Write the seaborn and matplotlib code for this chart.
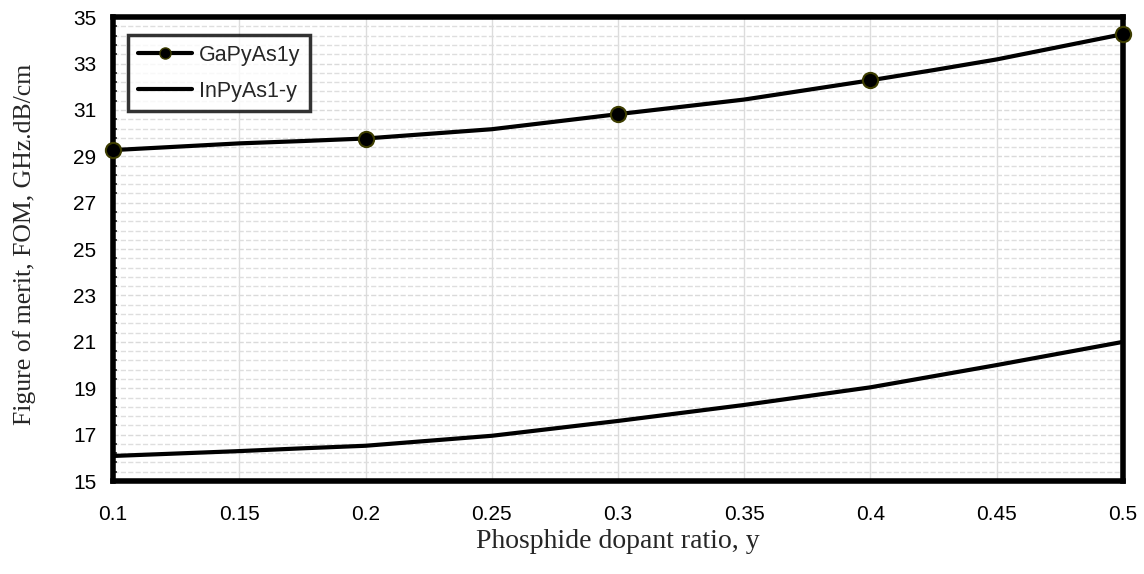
import numpy as np
import pandas as pd
import seaborn as sns
import matplotlib.pyplot as plt
from matplotlib.lines import Line2D
from matplotlib.ticker import MultipleLocator, FixedLocator, FuncFormatter

# data
x_vals = [0.1, 0.15, 0.175, 0.2, 0.25, 0.3, 0.35, 0.4, 0.425, 0.45, 0.5]
gap_fom = [29.27, 29.56, 29.66, 29.77, 30.17, 30.82, 31.45, 32.28, 32.72, 33.18, 34.27]
inp_fom = [16.08, 16.29, 16.41, 16.52, 16.95, 17.59, 18.28, 19.04, 19.52, 20.0, 21.0]
marker_x = [0.1, 0.2, 0.3, 0.4, 0.5]
marker_gap = [29.27, 29.77, 30.82, 32.28, 34.27]
series_names = ["GaPyAs1y", "InPyAs1-y"]

sns.set_style("white")
plt.rcParams['font.family'] = ['Liberation Sans', 'DejaVu Sans']
serif = ["Liberation Serif", "DejaVu Serif"]

df = pd.DataFrame({"y": x_vals, series_names[0]: gap_fom, series_names[1]: inp_fom})
df_m = pd.DataFrame({"y": marker_x, "fom": marker_gap})

fig = plt.figure(figsize=(11.44, 5.74), dpi=100)
ax = fig.add_axes([0.0988, 0.162, 0.8828, 0.808])

sns.lineplot(data=df, x="y", y=series_names[0], ax=ax, color="black", lw=3, zorder=3)
sns.lineplot(data=df, x="y", y=series_names[1], ax=ax, color="black", lw=3, zorder=3)
sns.scatterplot(data=df_m, x="y", y="fom", ax=ax, s=120, color="black",
                edgecolor="#3d3d00", linewidth=1.5, zorder=4, clip_on=False)

ax.set_xlim(0.1, 0.5)
ax.set_ylim(15, 35)
ax.xaxis.set_major_locator(MultipleLocator(0.05))
ax.yaxis.set_major_locator(FixedLocator(np.arange(15, 35.5, 2)))
ax.yaxis.set_minor_locator(FixedLocator(np.arange(15, 35.01, 0.4)))
ax.xaxis.set_major_formatter(FuncFormatter(lambda v, p: f"{v:g}"))
ax.yaxis.set_major_formatter(FuncFormatter(lambda v, p: f"{v:g}"))

ax.grid(True, which="major", axis="x", color="#dcdcdc", lw=1, ls="-")
ax.grid(True, which="major", axis="y", color="#dadada", lw=1, ls="--")
ax.grid(True, which="minor", axis="y", color="#dedede", lw=1, ls="--")
ax.set_axisbelow(True)

ax.tick_params(axis="both", which="major", direction="in", length=4, width=1.5,
               labelsize=15, colors="black")
ax.tick_params(axis="x", pad=17)
ax.tick_params(axis="y", pad=12)
ax.tick_params(axis="y", which="minor", direction="in", length=3, width=1.2, left=True)
ax.tick_params(top=False, right=False)

for s in ax.spines.values():
    s.set_visible(True)
    s.set_color("black")
    s.set_linewidth(4)

ax.set_xlabel("Phosphide dopant ratio, y", family=serif, fontsize=20)
ax.set_ylabel("Figure of merit, FOM, GHz.dB/cm", family=serif, fontsize=18.5)
ax.xaxis.set_label_coords(0.5, -0.13, transform=ax.transAxes)
ax.yaxis.set_label_coords(-0.088, 0.51, transform=ax.transAxes)
ax.xaxis.label.set_va("center")
ax.yaxis.label.set_va("center")

handles = [
    Line2D([], [], color="black", lw=3, marker="o", markersize=8,
           markerfacecolor="black", markeredgecolor="#3d3d00"),
    Line2D([], [], color="black", lw=3),
]
leg = ax.legend(handles, series_names, loc="upper left", bbox_to_anchor=(0.0149, 0.962),
                fontsize=15.5, frameon=True, fancybox=False, handlelength=2.5,
                handletextpad=0.35, borderpad=0.45, labelspacing=0.7,
                borderaxespad=0, edgecolor="black")
leg.get_frame().set_linewidth(2.5)

fig.savefig("out.png", dpi=100)
